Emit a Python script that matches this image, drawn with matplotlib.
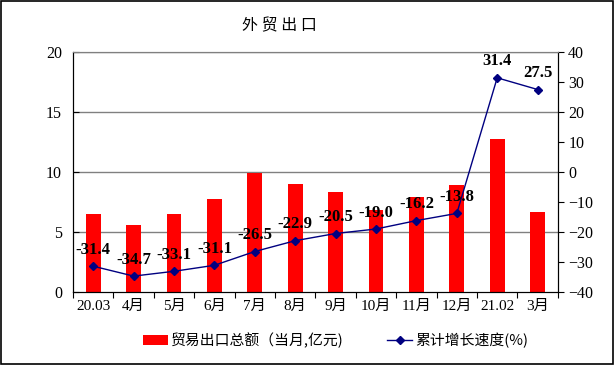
import matplotlib
matplotlib.use("Agg")
import matplotlib.pyplot as plt
import numpy as np

# 外贸出口: monthly export value (bars) + cumulative growth (line)
months = ['20.03', '4月', '5月', '6月', '7月', '8月', '9月', '10月', '11月', '12月', '21.02', '3月']
export_val = [6.5, 5.6, 6.5, 7.75, 9.9, 9.0, 8.3, 6.8, 7.9, 8.9, 12.75, 6.7]
growth = [-31.4, -34.7, -33.1, -31.1, -26.5, -22.9, -20.5, -19.0, -16.2, -13.8, 31.4, 27.5]
growth_labels = ['-31.4', '-34.7', '-33.1', '-31.1', '-26.5', '-22.9', '-20.5', '-19.0', '-16.2', '-13.8', '31.4', '27.5']

cjk = ['Noto Sans CJK SC', 'DejaVu Sans']
serif = ['Liberation Serif', 'Noto Sans CJK SC']

fig = plt.figure(figsize=(6.15, 3.65), dpi=100)
ax = fig.add_axes([0.1187, 0.2, 0.7883, 0.6575])
ax2 = ax.twinx()

x = np.arange(len(months))
bars = ax.bar(x, export_val, width=0.37, color='#ff0000', zorder=2)
ax.set_xlim(-0.5, len(months) - 0.5)
ax.set_ylim(0, 20)
ax.set_yticks([0, 5, 10, 15, 20])
for v in [5, 10, 15, 20]:
    ax.axhline(v, color='#808080', lw=1, zorder=1)

ax.set_xticks(np.arange(-0.5, len(months) + 0.5, 1))
ax.set_xticklabels([])
ax.set_xticks(x, minor=True)
ax.set_xticklabels(months, minor=True, family=serif, fontsize=11)
ax.tick_params(axis='x', which='minor', length=0, pad=6)
ax.tick_params(axis='x', which='major', length=4, direction='out')
ax.tick_params(axis='y', length=4, direction='in', labelsize=11.5, pad=8)
for lab in ax.get_yticklabels():
    lab.set_family(serif)

line, = ax2.plot(x, growth, color='#000080', lw=1, marker='D', markersize=4,
                 markerfacecolor='#000080', zorder=3)
ax2.set_ylim(-40, 40)
ax2.set_yticks(np.arange(-40, 41, 10))
ax2.tick_params(axis='y', length=4, direction='out', labelsize=11.5)
for lab in ax2.get_yticklabels():
    lab.set_family(serif)
for xi, g, s in zip(x, growth, growth_labels):
    ax2.text(xi, g + 5.5, s, ha='center', va='center', family=serif,
             fontsize=12, fontweight='bold')

for a in (ax, ax2):
    a.spines['top'].set_color('#808080')
    for sp in ('left', 'right', 'bottom'):
        a.spines[sp].set_color('black')

fig.text(0.455, 0.93, '外 贸 出 口', ha='center', va='center', family=cjk, fontsize=11.5)

fig.legend([bars, line], ['贸易出口总额（当月,亿元)', '累计增长速度(%)'],
           loc='center', bbox_to_anchor=(0.546, 0.068), ncol=2, frameon=False,
           prop={'family': cjk, 'size': 10.7}, handlelength=1.7, columnspacing=2.9,
           handletextpad=0.2)

fig.patches.append(plt.Rectangle((0.002, 0.003), 0.995, 0.994, transform=fig.transFigure,
                                 fill=False, edgecolor='black', lw=1.2))

fig.savefig('out.png', dpi=100)
